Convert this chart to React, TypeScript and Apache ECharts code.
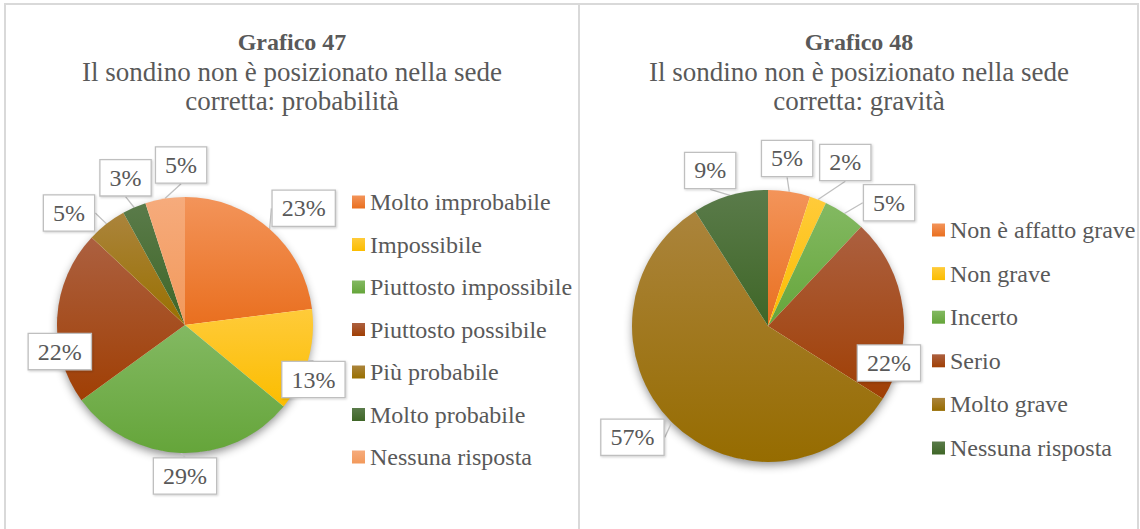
import React, { useEffect, useRef } from "react";
import * as echarts from "echarts";

// ---- Data ----
const CATEGORIES_47 = [
  "Molto improbabile",
  "Impossibile",
  "Piuttosto impossibile",
  "Piuttosto possibile",
  "Più probabile",
  "Molto probabile",
  "Nessuna risposta",
];
const VALUES_47 = [23, 13, 29, 22, 5, 3, 5];

const CATEGORIES_48 = [
  "Non è affatto grave",
  "Non grave",
  "Incerto",
  "Serio",
  "Molto grave",
  "Nessuna risposta",
];
const VALUES_48 = [5, 2, 5, 22, 57, 9];

const TITLE_47 = "Grafico 47";
const SUBTITLE_47 = "Il sondino non è posizionato nella sede\ncorretta: probabilità";
const TITLE_48 = "Grafico 48";
const SUBTITLE_48 = "Il sondino non è posizionato nella sede\ncorretta: gravità";

// ---- Styles ----
const FONT = "Liberation Serif";
const TEXT_COLOR = "#595959";
const COLORS_47: [string, string][] = [
  ["#F3945A", "#E96F1F"],
  ["#FFCB3A", "#FBBD00"],
  ["#83B962", "#65A53A"],
  ["#AC6040", "#A03F04"],
  ["#AB843C", "#997000"],
  ["#5A7B4A", "#3F6627"],
  ["#F6AB7C", "#F2995B"],
];
const COLORS_48: [string, string][] = [
  ["#F3945A", "#E96F1F"],
  ["#FFCB3A", "#FBBD00"],
  ["#83B962", "#65A53A"],
  ["#AC6040", "#A03F04"],
  ["#AB843C", "#966C00"],
  ["#5A7B4A", "#3F6627"],
];

// pie geometry
const PIE1 = { cx: 185, cy: 325, r: 128 };
const PIE2 = { cx: 768, cy: 326, r: 136 };
// label placement: [angle clockwise from 12 o'clock (deg), distance as factor of radius]
const LABEL_47: [number, number][] = [
  [45.5, 1.3],
  [113, 1.09],
  [180, 1.18],
  [258, 1.0],
  [314, 1.26],
  [338, 1.24],
  [358.6, 1.25],
];
const LABEL_48: [number, number][] = [
  [6.5, 1.24],
  [25.3, 1.33],
  [44.5, 1.27],
  [107, 0.93],
  [230.6, 1.29],
  [339.6, 1.22],
];

function grad(c: [string, string]) {
  return new echarts.graphic.LinearGradient(0, 0, 0, 1, [
    { offset: 0, color: c[0] },
    { offset: 1, color: c[1] },
  ]);
}

function labelStyle() {
  return {
    show: true,
    position: "outside",
    formatter: "{c}%",
    fontFamily: FONT,
    fontSize: 24,
    lineHeight: 24,
    color: TEXT_COLOR,
    backgroundColor: "#ffffff",
    borderColor: "#BFBFBF",
    borderWidth: 1.3,
    padding: [6, 9, 5, 9],
    shadowColor: "rgba(0,0,0,0.18)",
    shadowBlur: 2,
    shadowOffsetX: 1,
    shadowOffsetY: 1,
  };
}

function makePie(
  name: string,
  cats: string[],
  vals: number[],
  colors: [string, string][],
  geo: { cx: number; cy: number; r: number },
  labels: [number, number][]
) {
  return {
    type: "pie",
    name,
    z: 3,
    center: [geo.cx, geo.cy],
    radius: geo.r,
    startAngle: 90,
    clockwise: true,
    avoidLabelOverlap: false,
    data: cats.map((n, i) => ({
      name: n,
      value: vals[i],
      itemStyle: { color: grad(colors[i]) },
    })),
    itemStyle: { borderWidth: 0 },
    label: labelStyle(),
    labelLine: {
      show: true,
      length: 8,
      length2: 0,
      smooth: false,
      lineStyle: { color: "#BFBFBF", width: 1.3 },
    },
    labelLayout: (p: any) => {
      const [deg, k] = labels[p.dataIndex];
      const a = (deg * Math.PI) / 180;
      return {
        x: geo.cx + geo.r * k * Math.sin(a),
        y: geo.cy - geo.r * k * Math.cos(a),
        align: "center",
        verticalAlign: "middle",
      };
    },
    emphasis: { disabled: true },
  };
}

function makeShadow(geo: { cx: number; cy: number; r: number }) {
  return {
    type: "pie",
    z: 1,
    silent: true,
    center: [geo.cx, geo.cy],
    radius: geo.r - 1,
    data: [{ value: 1, name: "" }],
    itemStyle: {
      color: "#ffffff",
      shadowBlur: 10,
      shadowColor: "rgba(0,0,0,0.45)",
      shadowOffsetX: 0,
      shadowOffsetY: 4,
    },
    label: { show: false },
    labelLine: { show: false },
    emphasis: { disabled: true },
  };
}

function legend(cats: string[], colors: [string, string][], left: number, top: number, gap: number) {
  return {
    orient: "vertical",
    left,
    top,
    padding: 0,
    icon: "rect",
    itemWidth: 13,
    itemHeight: 13,
    itemGap: gap,
    selectedMode: false,
    textStyle: { fontFamily: FONT, fontSize: 24, lineHeight: 24, color: TEXT_COLOR },
    data: cats.map((n, i) => ({ name: n, itemStyle: { color: grad(colors[i]) } })),
  };
}

function title(text: string, sub: string, left: number) {
  return {
    text,
    subtext: sub,
    left,
    top: 29,
    padding: 0,
    textAlign: "center",
    itemGap: 2,
    textStyle: { fontFamily: FONT, fontSize: 24, fontWeight: "bold", color: TEXT_COLOR, lineHeight: 26 },
    subtextStyle: { fontFamily: FONT, fontSize: 27, color: TEXT_COLOR, lineHeight: 29.5 },
  };
}

export default function App() {
  const ref = useRef<HTMLDivElement>(null);
  useEffect(() => {
    if (!ref.current) return;
    const chart = echarts.init(ref.current, undefined, { renderer: "svg" });
    chart.setOption({
      animation: false,
      backgroundColor: "#ffffff",
      textStyle: { fontFamily: FONT },
      title: [title(TITLE_47, SUBTITLE_47, 292), title(TITLE_48, SUBTITLE_48, 859)],
      legend: [
        legend(CATEGORIES_47, COLORS_47, 352, 190, 18.5),
        legend(CATEGORIES_48, COLORS_48, 932, 218, 19.6),
      ],
      graphic: [
        {
          type: "rect",
          silent: true,
          shape: { x: 5, y: 4, width: 574, height: 560 },
          style: { fill: "none", stroke: "#D9D9D9", lineWidth: 2 },
        },
        {
          type: "rect",
          silent: true,
          shape: { x: 579, y: 4, width: 559, height: 560 },
          style: { fill: "none", stroke: "#D9D9D9", lineWidth: 2 },
        },
      ],
      series: [
        makePie("Grafico 47", CATEGORIES_47, VALUES_47, COLORS_47, PIE1, LABEL_47),
        makePie("Grafico 48", CATEGORIES_48, VALUES_48, COLORS_48, PIE2, LABEL_48),
        makeShadow(PIE1),
        makeShadow(PIE2),
      ],
    });
    return () => chart.dispose();
  }, []);
  return (
    <div
      ref={ref}
      style={{ position: "absolute", left: 0, top: 0, width: 1140, height: 529 }}
    />
  );
}
